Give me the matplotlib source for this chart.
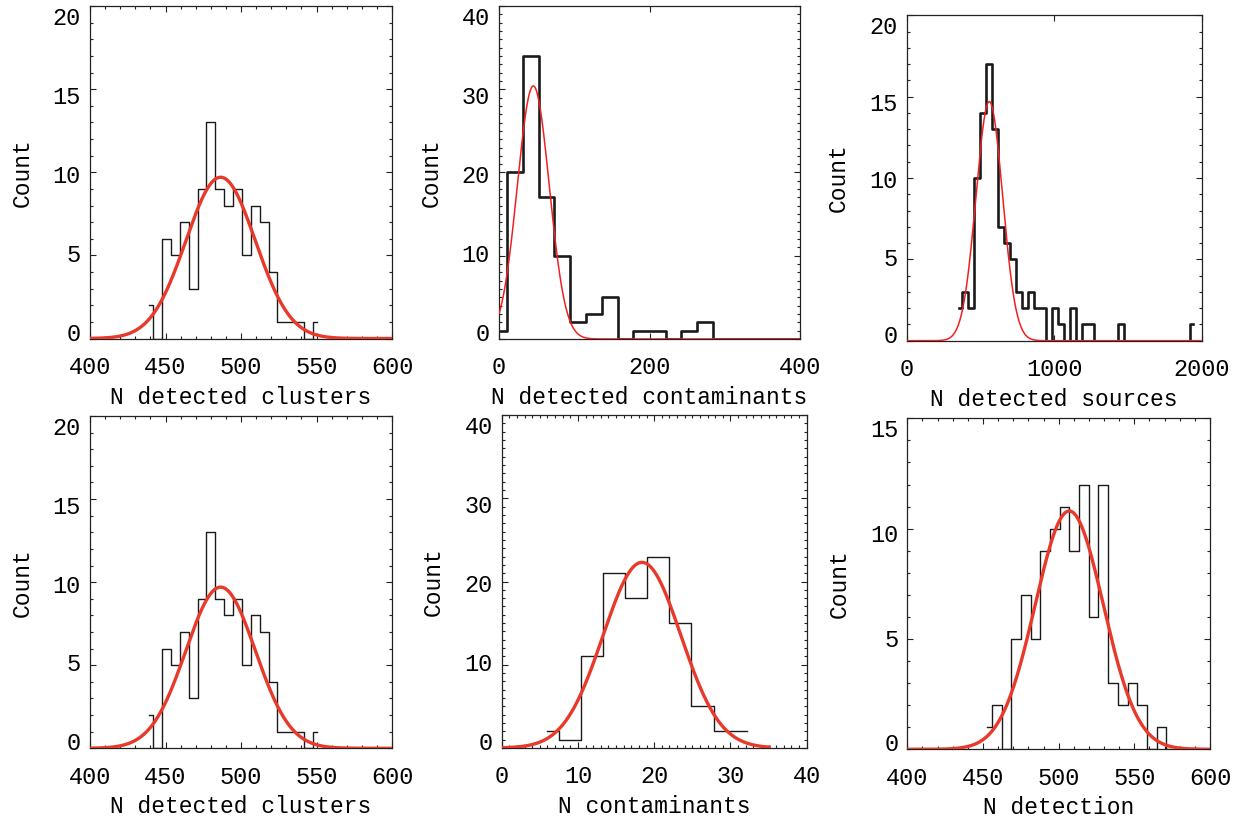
import numpy as np
import matplotlib
matplotlib.use("Agg")
import matplotlib.pyplot as plt
from matplotlib.ticker import MultipleLocator, NullLocator

# ---------------- data ----------------
# bin centres and counts of each histogram, and Gaussian fit (amplitude, mean, sigma)
clusters_x = [439.0, 444.9, 450.7, 456.6, 462.5, 468.4, 474.2, 480.1, 486.0, 491.9,
              497.7, 503.6, 509.5, 515.4, 521.2, 527.1, 533.0, 538.9, 544.7, 550.6]
clusters_n = [2, 0, 6, 5, 7, 3, 9, 13, 9, 8, 9, 5, 8, 7, 4, 1, 1, 1, 0, 1]
clusters_fit = [9.7, 486.5, 23.0]

det_cont_x = [0, 21, 42, 63, 84, 105, 126, 147, 168, 189,
              211, 232, 253, 274, 295, 316, 337, 358, 379, 400]
det_cont_n = [1, 20, 34, 17, 10, 2, 3, 5, 0, 1, 1, 0, 1, 2, 0, 0, 0, 0, 0, 0]
det_cont_fit = [30.4, 45.6, 21.2]

sources_x = [352, 393, 434, 474, 515, 556, 596, 637, 678, 718,
             759, 800, 840, 881, 922, 962, 1003, 1044, 1085, 1125,
             1166, 1207, 1247, 1288, 1329, 1369, 1410, 1451, 1491, 1532,
             1573, 1613, 1654, 1695, 1735, 1776, 1817, 1857, 1898, 1939]
sources_n = [2, 3, 2, 10, 14, 17, 13, 7, 6, 5,
             3, 2, 3, 2, 2, 0, 2, 1, 0, 2,
             0, 1, 1, 0, 0, 0, 0, 1, 0, 0,
             0, 0, 0, 0, 0, 0, 0, 0, 0, 1]
sources_fit = [14.7, 560.0, 90.0]

cont_x = [6.0, 8.9, 11.8, 14.7, 17.6, 20.5, 23.4, 26.3, 29.3, 32.2]
cont_n = [2, 1, 11, 21, 18, 23, 15, 5, 2, 2]
cont_fit = [22.3, 18.4, 5.1]

detect_x = [452.7, 459.1, 465.5, 471.9, 478.3, 484.7, 491.1, 497.5, 503.9, 510.3,
            516.7, 523.1, 529.5, 535.9, 542.3, 548.7, 555.1, 561.5, 567.9, 574.3]
detect_n = [1, 2, 0, 5, 7, 5, 9, 10, 11, 9, 12, 6, 12, 3, 2, 3, 2, 0, 1, 0]
detect_fit = [10.8, 507.0, 22.5]

x_titles = ["N detected clusters", "N detected contaminants", "N detected sources",
            "N detected clusters", "N contaminants", "N detection"]
y_title = "Count"

# ---------------- figure ----------------
W, H, DPI = 1244, 824, 100
plt.rcParams['font.family'] = ['Liberation Mono', 'DejaVu Sans']
fig = plt.figure(figsize=(W / DPI, H / DPI), dpi=DPI)

thin = dict(hist_c='#1a1a1a', hist_lw=1.0, fit_c='#e8392a', fit_lw=2.4)
bold = dict(hist_c='#1a1a1a', hist_lw=1.9, fit_c='#f02020', fit_lw=1.1)

panels = [
    # (x, n, fit, fit range, box px (l,t,r,b), xlim, ylim, xmaj, xmin, ymaj, ymin, style, title)
    (clusters_x, clusters_n, clusters_fit, (400, 600), (90, 6, 392, 338.5),
     (400, 600), (0, 20), 50, 10, 5, 1, thin, x_titles[0]),
    (det_cont_x, det_cont_n, det_cont_fit, (0, 400), (499, 6, 800, 339),
     (0, 400), (0, 40), 200, None, 10, 1, bold, x_titles[1]),
    (sources_x, sources_n, sources_fit, (0, 2000), (906.7, 15.3, 1201.7, 340.7),
     (0, 2000), (0, 20), 1000, None, 5, 1, bold, x_titles[2]),
    (clusters_x, clusters_n, clusters_fit, (400, 600), (90, 416, 392, 748.3),
     (400, 600), (0, 20), 50, 10, 5, 1, thin, x_titles[3]),
    (cont_x, cont_n, cont_fit, (0, 35.3), (501.7, 415, 806.7, 748),
     (0, 40), (0, 40), 10, 1, 10, 1, thin, x_titles[4]),
    (detect_x, detect_n, detect_fit, (400, 600), (907.3, 418.3, 1210, 749.3),
     (400, 600), (0, 15), 50, 10, 5, 1, thin, x_titles[5]),
]

TICK_FS = 17
LABEL_FS = 16.5

for (x, n, fit, frange, box, xlim, ylim, xmaj, xmin, ymaj, ymin, st, title) in panels:
    l, t, r, b = box
    wpx, hpx = r - l, b - t
    ax = fig.add_axes([l / W, 1 - b / H, wpx / W, hpx / H])
    ax.step(x, n, where='mid', color=st['hist_c'], lw=st['hist_lw'], zorder=2)
    xx = np.linspace(frange[0], frange[1], 400)
    amp, mu, sig = fit
    ax.plot(xx, amp * np.exp(-0.5 * ((xx - mu) / sig) ** 2),
            color=st['fit_c'], lw=st['fit_lw'], zorder=3, solid_capstyle='butt')
    ax.set_xlim(*xlim)
    ax.set_ylim(*ylim)
    ax.xaxis.set_major_locator(MultipleLocator(xmaj))
    ax.xaxis.set_minor_locator(MultipleLocator(xmin) if xmin else NullLocator())
    ax.yaxis.set_major_locator(MultipleLocator(ymaj))
    ax.yaxis.set_minor_locator(MultipleLocator(ymin))
    ax.tick_params(which='both', direction='in', top=True, right=True,
                   color='#222222', width=0.8)
    ax.tick_params(which='major', length=4.3)
    ax.tick_params(which='minor', length=2.2)
    ax.tick_params(axis='x', labelsize=TICK_FS, pad=12.5)
    ax.tick_params(axis='y', labelleft=False)
    for s in ax.spines.values():
        s.set_linewidth(0.9)
        s.set_color('#222222')
    ax.set_xlabel(title, fontsize=LABEL_FS, va='center')
    ax.xaxis.set_label_coords(0.5, -58.5 / hpx)
    ax.set_ylabel(y_title, fontsize=LABEL_FS, va='center')
    ax.yaxis.set_label_coords(-68.0 / wpx, 0.5)

    # y tick labels: slightly compressed placement as in the original
    lt, lb = t + 10.0, b - 7.0
    lab = fig.add_axes([l / W, 1 - lb / H, wpx / W, (lb - lt) / H])
    lab.set_ylim(*ylim)
    lab.yaxis.set_major_locator(MultipleLocator(ymaj))
    lab.yaxis.set_minor_locator(NullLocator())
    lab.tick_params(axis='y', length=0, pad=6.5, labelsize=TICK_FS)
    lab.xaxis.set_visible(False)
    lab.patch.set_visible(False)
    for s in lab.spines.values():
        s.set_visible(False)

fig.savefig("out.png", dpi=DPI)
